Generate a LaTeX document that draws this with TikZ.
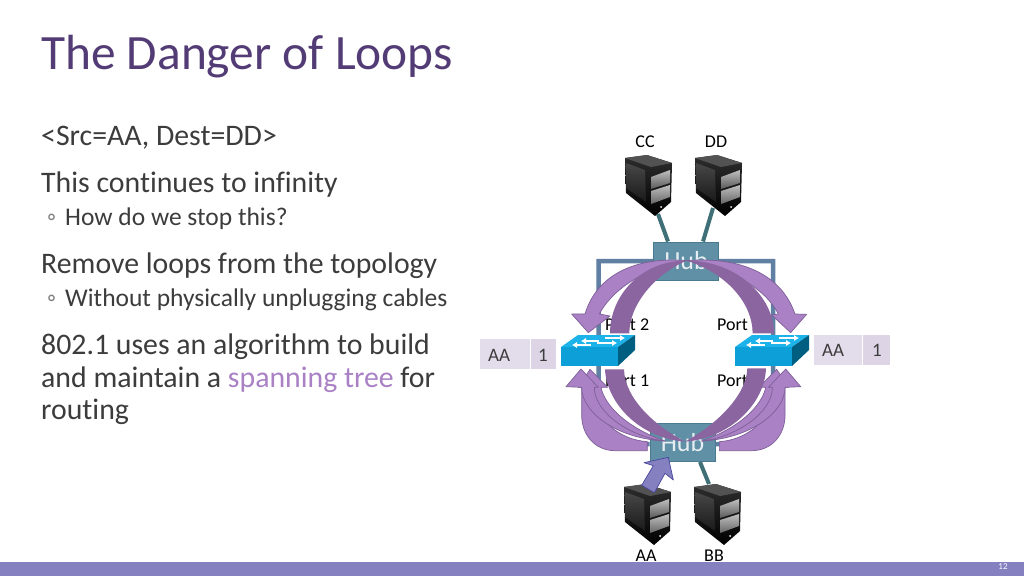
\documentclass[tikz,border=0pt]{standalone}
\usepackage{fontspec}
\setmainfont[Ligatures=NoCommon]{Carlito}
\usetikzlibrary{arrows.meta}
\definecolor{titlec}{HTML}{533C75}
\definecolor{textc}{HTML}{3C3C3C}
\definecolor{lila}{HTML}{A981C4}
\definecolor{lilad}{HTML}{8A659F}
\definecolor{lilae}{HTML}{7E5F98}
\definecolor{barc}{HTML}{8580C0}
\definecolor{hubc}{HTML}{5F90A6}
\definecolor{hube}{HTML}{4A7A90}
\definecolor{linkc}{HTML}{3F7078}
\definecolor{loopc}{HTML}{5F7FA3}
\definecolor{cella}{HTML}{E3DCEA}
\definecolor{cellb}{HTML}{DDD5E6}
\definecolor{swtop}{HTML}{1CB2EA}
\definecolor{swfront}{HTML}{0C9FD8}
\definecolor{swside}{HTML}{005F80}
\tikzset{
  x=1pt,y=-1pt,
  body/.style={anchor=base west,inner sep=0pt,text=textc,font=\fontsize{29.8}{29.8}\selectfont},
  sub/.style={anchor=base west,inner sep=0pt,text=textc,font=\fontsize{25.5}{25.5}\selectfont},
  lab/.style={inner sep=0pt,text=black,font=\fontsize{18}{18}\selectfont},
  hubbox/.style={draw=hube,line width=1pt,fill=hubc,inner sep=0pt,text=white!85!hubc,font=\fontsize{26}{26}\selectfont},
  cell/.style={inner sep=0pt,text=textc,font=\fontsize{19}{19}\selectfont},
  link/.style={draw=linkc,line width=4pt},
  loopline/.style={draw=loopc,line width=4.5pt},
  arrl/.style={fill=lila,draw=lilae,line width=.7pt,line join=round},
  arrd/.style={fill=lilad,draw=none},
  swarrow/.style={white,line width=2.2pt,-{Latex[length=5pt,width=6.5pt]}},
  server/.pic={
    \shade[top color=black!82,bottom color=black] (0,0) -- (22,-3) -- (47,5) -- (46,44) -- (30,58) -- (1,35) -- cycle;
    \fill[black!68] (0,0) -- (22,-3) -- (47,5) -- (26,9) -- cycle;
    \shade[top color=black!72,bottom color=black!90] (1,5) -- (20,12) -- (21,44) -- (1,30) -- cycle;
    \shade[top color=black!25,bottom color=black!65] (26,19) -- (45,12) -- (45,25) -- (26,31) -- cycle;
    \shade[top color=black!25,bottom color=black!60] (26,33) -- (45,27) -- (45,39) -- (26,46) -- cycle;
    \fill[white] (36,49) circle (1pt);
  },
  switchsym/.pic={
    \fill[swtop] (0,14) -- (17,2) -- (74,2) -- (57,14) -- cycle;
    \fill[swfront] (0,14) rectangle (57,33);
    \fill[swside] (57,14) -- (74,2) -- (74,17) -- (57,33) -- cycle;
    \draw[swarrow] (38,8) -- (20,8);
    \draw[swarrow] (44,5) -- (64,5);
    \draw[swarrow] (30,12) -- (11,12);
    \draw[swarrow] (36,10) -- (56,10);
  },
  bottomarrows/.pic={
    \filldraw[arrl] (247,272) -- (150,272) .. controls (90,272) and (50,225) .. (50,165) -- (50,82) -- (90,82) -- (90,130) .. controls (110,190) and (170,240) .. (247,245) -- cycle;
    \filldraw[arrl] (75,28) -- (128,82) -- (108,82) .. controls (120,140) and (190,205) .. (300,243) .. controls (200,240) and (100,170) .. (70,82) -- (40,82) -- cycle;
    \filldraw[arrl] (48,27) -- (3,80) -- (50,82) .. controls (50,155) and (150,235) .. (300,243) .. controls (200,232) and (88,160) .. (88,82) -- (100,82) -- cycle;
  }
}
\begin{document}
\begin{tikzpicture}
\useasboundingbox (0,0) rectangle (1024,576);
\fill[white] (0,0) rectangle (1024,576);
% bottom bar
\fill[barc] (0,562) rectangle (1024,576);
\node[inner sep=0pt,text=white,font=\fontsize{9}{9}\selectfont] (pageno) at (1003,567) {12};
% text
\node[anchor=base west,inner sep=0pt,text=titlec,font=\fontsize{49.4}{49.4}\selectfont] (title) at (41,69) {The Danger of Loops};
\node[body] (t1) at (41,145) {<Src=AA, Dest=DD>};
\node[body] (t2) at (41,192) {This continues to infinity};
\node[sub,text=gray] (b1) at (47,225) {◦};
\node[sub] (t3) at (65,225) {How do we stop this?};
\node[body] (t4) at (41,273) {Remove loops from the topology};
\node[sub,text=gray] (b2) at (47,306) {◦};
\node[sub] (t5) at (65,306) {Without physically unplugging cables};
\node[body] (t6) at (41,354) {802.1 uses an algorithm to build};
\node[body] (t7) at (41,387) {and maintain a \textcolor{lila}{spanning tree} for};
\node[body] (t8) at (41,419) {routing};
% labels
\node[lab] (lcc) at (645,142) {CC};
\node[lab] (ldd) at (716,142) {DD};
\node[lab] (laa) at (646,556) {AA};
\node[lab] (lbb) at (714,556) {BB};
\node[lab,anchor=base west] (p2) at (605,330) {Port 2};
\node[lab,anchor=base west] (p2r) at (717,330) {Port 2};
\node[lab,anchor=base west] (p1) at (605,386) {Port 1};
\node[lab,anchor=base west] (p1r) at (717,386) {Port 1};
% cells
\fill[cella] (480,339) rectangle (530,369);
\fill[cellb] (531,339) rectangle (556,369);
\node[cell] (c1) at (499,355) {AA};
\node[cell] (c2) at (543,355) {1};
\fill[cella] (814,335) rectangle (862,365);
\fill[cellb] (863,335) rectangle (890,365);
\node[cell] (c3) at (833,350) {AA};
\node[cell] (c4) at (877,350) {1};
% hubs and links
\coordinate (ccb) at (658,214);
\coordinate (ddb) at (713,208);
\coordinate (bbb) at (709,484);
\node[hubbox,minimum width=65pt,minimum height=38pt] (hubt) at (686,261) {Hub};
\node[hubbox,minimum width=65pt,minimum height=38pt] (hubb) at (682.5,442.5) {Hub};
% loop links
\draw[loopline] (hubt.west) -- (598.5,261) -- (598.5,425) -- (608,444) -- (hubb.west |- 0,444);
\draw[loopline] (hubt.east) -- (773,261) -- (773,425) -- (764,444) -- (hubb.east |- 0,444);
\draw[link] (ccb) -- (hubt.north -| 668,0);
\draw[link] (ddb) -- (hubt.north -| 703,0);
\draw[link] (bbb) -- (hubb.south -| 700,0);
% switches
\pic at (561,333) {switchsym};
\pic at (735,333) {switchsym};
% servers
\pic at (625,158) {server};
\pic at (695,158) {server};
\pic at (624,487) {server};
\pic at (694,487) {server};
% bottom light arrows
\begin{scope}[shift={(565,360)},x=0.3333pt,y=-0.3333pt]
 \pic[x=0.3333pt,y=-0.3333pt] {bottomarrows};
\end{scope}
\begin{scope}[shift={(801.7,360)},x=-0.3333pt,y=-0.3333pt]
 \pic[x=-0.3333pt,y=-0.3333pt] {bottomarrows};
\end{scope}
% arrows in zoomed coordinates
\begin{scope}[shift={(470,230)},x=0.3333pt,y=-0.3333pt]
 \filldraw[arrl] (650,92) .. controls (520,80) and (385,120) .. (345,252) -- (305,252) -- (355,308) -- (420,258) -- (388,252) .. controls (420,190) and (510,115) .. (650,92) -- cycle;
 \filldraw[arrl] (650,92) .. controls (790,80) and (930,120) .. (975,252) -- (1010,253) -- (962,308) -- (905,255) -- (925,252) .. controls (895,190) and (800,115) .. (650,92) -- cycle;
 \fill[arrd] (650,92) .. controls (510,92) and (420,200) .. (420,310) -- (478,310) .. controls (478,220) and (560,130) .. (650,92) -- cycle;
 \fill[arrd] (650,92) .. controls (800,92) and (912,200) .. (912,310) -- (848,310) .. controls (848,220) and (770,130) .. (650,92) -- cycle;
 \fill[arrd] (405,418) .. controls (410,520) and (510,625) .. (645,635) .. controls (560,590) and (465,510) .. (462,418) -- cycle;
 \fill[arrd] (888,415) .. controls (885,520) and (780,625) .. (645,635) .. controls (730,590) and (830,500) .. (832,415) -- cycle;
\end{scope}
% AA up arrow
\begin{scope}[shift={(600,420)},x=0.3333pt,y=-0.3333pt]
 \filldraw[fill=barc,draw=black!30!barc!80!blue,line width=.7pt,line join=round] (125,196) -- (160,137) -- (132,128) -- (205,112) -- (220,180) -- (195,160) -- (163,218) -- cycle;
\end{scope}
\end{tikzpicture}
\end{document}
